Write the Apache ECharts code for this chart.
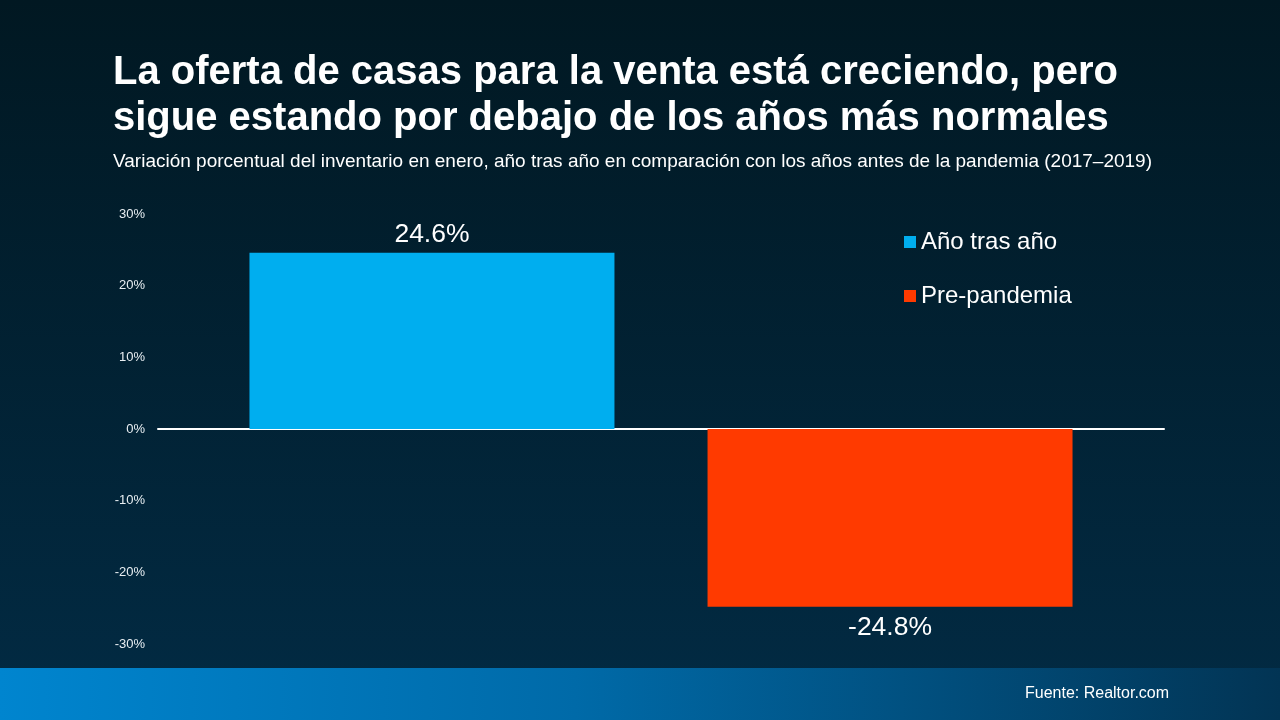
<!DOCTYPE html>
<html><head><meta charset="utf-8">
<script src="https://cdn.jsdelivr.net/npm/echarts@6/dist/echarts.min.js"></script>
<style>html,body{margin:0;padding:0;background:#001b29}#c{width:1280px;height:720px}</style>
</head><body><div id="c"></div>
<script>
const categories = ['Enero'];
const seriesNames = ['Año tras año', 'Pre-pandemia'];
const yoyValues = [24.6];
const prePandemicValues = [-24.8];
const yTicks = [-30, -20, -10, 0, 10, 20, 30];

const chart = echarts.init(document.getElementById('c'));
const font = '"Liberation Sans", Arial, sans-serif';
chart.setOption({
  backgroundColor: {type:'linear', x:0, y:0, x2:0, y2:1, colorStops:[
    {offset:0, color:'#011822'}, {offset:1, color:'#022b44'}]},
  animation:false,
  textStyle:{fontFamily:font},
  title:[{
    text:'La oferta de casas para la venta está creciendo, pero\nsigue estando por debajo de los años más normales',
    left:108, top:45,
    textStyle:{color:'#fff', fontSize:40, fontWeight:'bold', lineHeight:46, fontFamily:font}
  },{
    text:'Variación porcentual del inventario en enero, año tras año en comparación con los años antes de la pandemia (2017–2019)',
    left:108, top:147,
    textStyle:{color:'#fff', fontSize:19, fontWeight:'normal', fontFamily:font}
  }],
  legend:{
    orient:'vertical', left:899, top:225, itemWidth:12, itemHeight:12, itemGap:30,
    icon:'rect',
    textStyle:{color:'#fff', fontSize:24, fontFamily:font}
  },
  grid:{left:158, right:116, top:214, bottom:76},
  xAxis:{type:'category', data:categories,
    axisLine:{onZero:true, lineStyle:{color:'#fff', width:2}},
    axisTick:{show:false}, axisLabel:{show:false}},
  yAxis:{type:'value', min:yTicks[0], max:yTicks[yTicks.length-1], interval:10,
    axisLine:{show:false}, axisTick:{show:false}, splitLine:{show:false},
    axisLabel:{color:'#e8eef2', fontSize:13, formatter:v=>v+'%', margin:13}},
  series:[{
    name:seriesNames[0], type:'bar', data:yoyValues, barWidth:365, barGap:'25.5%',
    itemStyle:{color:'#00aeef'},
    label:{show:true, position:'top', color:'#fff', fontSize:26.5, distance:5, formatter:p=>p.value+'%'}
  },{
    name:seriesNames[1], type:'bar', data:prePandemicValues, barWidth:365,
    itemStyle:{color:'#ff3a00'},
    label:{show:true, position:'bottom', color:'#fff', fontSize:26.5, distance:7, formatter:p=>p.value+'%'}
  }],
  graphic:[{
    type:'rect', left:0, top:668, shape:{width:1280, height:52}, z:-1,
    style:{fill:{type:'linear', x:0, y:0, x2:1, y2:0.3, colorStops:[
      {offset:0, color:'#0085cf'}, {offset:0.45, color:'#006aa8'}, {offset:1, color:'#023454'}]}}
  },{
    type:'text', left:1025, top:686,
    style:{text:'Fuente: Realtor.com', fill:'#fff', fontSize:16, fontFamily:font}
  }]
});
</script></body></html>
